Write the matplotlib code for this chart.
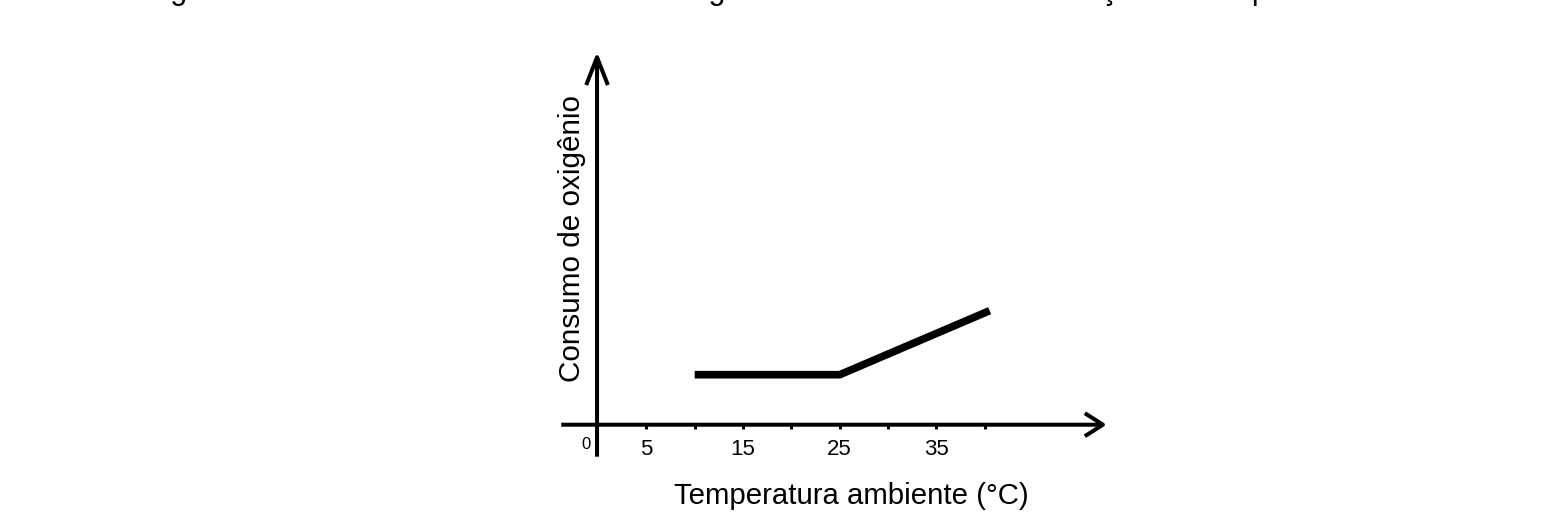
import matplotlib
matplotlib.use("Agg")
import matplotlib.pyplot as plt

plt.rcParams['font.family'] = ['Liberation Sans', 'DejaVu Sans']

# data
temperatura = [10, 25, 40.5]
consumo = [5, 5, 11.4]
tick_pos = [5, 10, 15, 20, 25, 30, 35, 40]
tick_labels = {5: "5", 15: "15", 25: "25", 35: "35"}
xlabel = "Temperatura ambiente (°C)"
ylabel = "Consumo de oxigênio"
enunciado = ("O gráfico abaixo mostra o consumo de oxigênio de certo animal "
             "em função da temperatura ambiente.")

W, H = 1567, 513
fig = plt.figure(figsize=(W / 100, H / 100), dpi=100)
ax = fig.add_axes([0, 0, 1, 1])

# pixel mapping: x0 at 598 px, 9.67 px per degree; y0 at 424.7 px from top, 10 px per unit
x0, sx = 598, 9.67
y0, sy = 424.7, 10.0
ax.set_xlim(-x0 / sx, (W - x0) / sx)
ax.set_ylim(-(H - y0) / sy, y0 / sy)
ax.axis('off')

axis_lw = 2.9
# x axis with open arrow head
ax.annotate("", xy=(52.6, 0), xytext=(-3.8, 0),
            arrowprops=dict(arrowstyle="->,head_length=13,head_width=8.3",
                            mutation_scale=1, lw=axis_lw, color="black",
                            shrinkA=0, shrinkB=0, capstyle="butt"))
# y axis
ax.annotate("", xy=(-0.1, 37.3), xytext=(-0.1, -3.2),
            arrowprops=dict(arrowstyle="->,head_length=20,head_width=7.8",
                            mutation_scale=1, lw=axis_lw, color="black",
                            shrinkA=0, shrinkB=0, capstyle="butt"))

# small tick marks under the axis
ax.vlines(tick_pos, -0.45, 0, color="black", lw=2.2)
for t in tick_pos:
    if t in tick_labels:
        ax.text(t, -2.5, tick_labels[t], ha="center", va="center", fontsize=16)
ax.text(-1.24, -1.95, "0", ha="center", va="center", fontsize=12)

ax.plot(temperatura, consumo, color="black", lw=5.5, solid_capstyle="butt",
        solid_joinstyle="miter")

ax.text(26.2, -7.93, xlabel, ha="center", va="baseline", fontsize=21.2)
ax.text(-1.9, 18.57, ylabel, rotation=90, rotation_mode="anchor",
        ha="center", va="baseline", fontsize=21.4)

# sentence above the figure, only the bottom of its glyphs shows at the top edge
top = fig.text(138 / W, (H + 1) / H, enunciado, ha="left", va="baseline", fontsize=20)
r = fig.canvas.get_renderer()
w = top.get_window_extent(renderer=r).width
top.set_fontsize(20 * 1370 / w)

fig.savefig("out.png", dpi=100)
